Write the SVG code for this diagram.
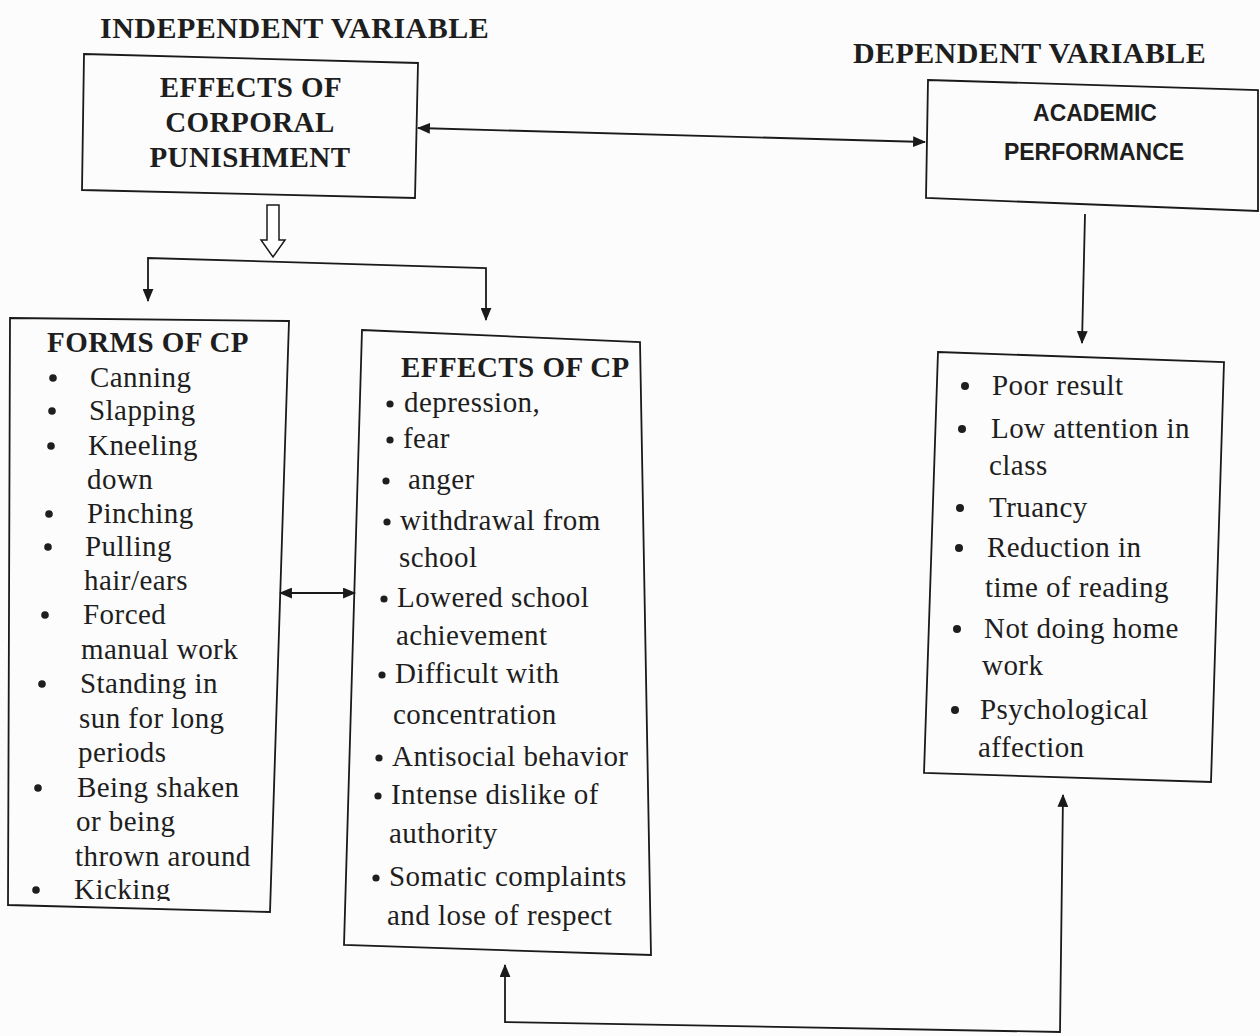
<svg xmlns="http://www.w3.org/2000/svg" width="1260" height="1036" viewBox="0 0 1260 1036">
<style>
.bg{fill:#fcfcfc}
.box{fill:none;stroke:#1a1a1a;stroke-width:1.8}
.ln{fill:none;stroke:#1a1a1a;stroke-width:1.8}
.t{font-family:"Liberation Serif","Times New Roman",serif;font-size:29px;letter-spacing:0.45px;fill:#1e1e1e}
.b{font-weight:bold}
.s{font-family:"Liberation Sans",Arial,sans-serif;font-size:23px;font-weight:bold;fill:#1e1e1e}
.dot{fill:#1e1e1e}
</style>
<defs>
<marker id="ah" viewBox="0 0 12 10" refX="11" refY="5" markerWidth="13" markerHeight="11" markerUnits="userSpaceOnUse" orient="auto-start-reverse">
<path d="M0,0 L12,5 L0,10 Z" fill="#1a1a1a"/>
</marker>
<clipPath id="kc"><rect x="0" y="860" width="300" height="41"/></clipPath>
</defs>
<rect class="bg" x="0" y="0" width="1260" height="1036"/>

<text class="t b" x="100" y="38" style="font-size:30px;letter-spacing:0.5px">INDEPENDENT VARIABLE</text>
<text class="t b" x="853" y="63" style="font-size:30px;letter-spacing:0.4px">DEPENDENT VARIABLE</text>

<g id="cp-box">
<path class="box" d="M84,54 L418,63 L415,198 L82,190 Z"/>
<text class="t b" x="251" y="97" text-anchor="middle">EFFECTS OF</text>
<text class="t b" x="250" y="132" text-anchor="middle">CORPORAL</text>
<text class="t b" x="250" y="167" text-anchor="middle">PUNISHMENT</text>
</g>

<g id="ap-box">
<path class="box" d="M928,80 L1258,90 L1258,211 L926,198 Z"/>
<text class="s" x="1095" y="121" text-anchor="middle">ACADEMIC</text>
<text class="s" x="1094" y="160" text-anchor="middle">PERFORMANCE</text>
</g>

<g id="forms-box">
<path class="box" d="M10,318 L289,321 L270,912 L8,905 Z"/>
<text class="t b" x="47" y="352">FORMS OF CP</text>
<circle class="dot" cx="53" cy="378" r="3.8"/><text class="t" x="90" y="387">Canning</text>
<circle class="dot" cx="52" cy="411" r="3.8"/><text class="t" x="89" y="420">Slapping</text>
<circle class="dot" cx="51" cy="446" r="3.8"/><text class="t" x="88" y="455">Kneeling</text>
<text class="t" x="87" y="489">down</text>
<circle class="dot" cx="49" cy="514" r="3.8"/><text class="t" x="87" y="523">Pinching</text>
<circle class="dot" cx="48" cy="547" r="3.8"/><text class="t" x="85" y="556">Pulling</text>
<text class="t" x="84" y="590">hair/ears</text>
<circle class="dot" cx="45" cy="615" r="3.8"/><text class="t" x="83" y="624">Forced</text>
<text class="t" x="81" y="659">manual work</text>
<circle class="dot" cx="42" cy="684" r="3.8"/><text class="t" x="80" y="693">Standing in</text>
<text class="t" x="79" y="728">sun for long</text>
<text class="t" x="78" y="762">periods</text>
<circle class="dot" cx="38" cy="788" r="3.8"/><text class="t" x="77" y="797">Being shaken</text>
<text class="t" x="76" y="831">or being</text>
<text class="t" x="75" y="866">thrown around</text>
<circle class="dot" cx="36" cy="890" r="3.8"/><text class="t" x="74" y="899" clip-path="url(#kc)">Kicking</text>
</g>

<g id="effects-box">
<path class="box" d="M362,330 L640,342 L651,955 L344,945 Z"/>
<text class="t b" x="401" y="377">EFFECTS OF CP</text>
<circle class="dot" cx="390" cy="404" r="3.6"/><text class="t" x="404" y="412">depression,</text>
<circle class="dot" cx="390" cy="440" r="3.6"/><text class="t" x="403" y="448">fear</text>
<circle class="dot" cx="386" cy="481" r="3.6"/><text class="t" x="408" y="489">anger</text>
<circle class="dot" cx="387" cy="522" r="3.6"/><text class="t" x="400" y="530">withdrawal from</text>
<text class="t" x="399" y="567">school</text>
<circle class="dot" cx="384" cy="599" r="3.6"/><text class="t" x="397" y="607">Lowered school</text>
<text class="t" x="396" y="645">achievement</text>
<circle class="dot" cx="382" cy="675" r="3.6"/><text class="t" x="395" y="683">Difficult with</text>
<text class="t" x="393" y="724">concentration</text>
<circle class="dot" cx="379" cy="758" r="3.6"/><text class="t" x="392" y="766">Antisocial behavior</text>
<circle class="dot" cx="378" cy="796" r="3.6"/><text class="t" x="391" y="804">Intense dislike of</text>
<text class="t" x="389" y="843">authority</text>
<circle class="dot" cx="376" cy="878" r="3.6"/><text class="t" x="389" y="886">Somatic complaints</text>
<text class="t" x="387" y="925">and lose of respect</text>
</g>

<g id="outcomes-box">
<path class="box" d="M938,352 L1224,362 L1211,782 L924,773 Z"/>
<circle class="dot" cx="965" cy="386" r="4"/><text class="t" x="992" y="395">Poor result</text>
<circle class="dot" cx="962" cy="429" r="4"/><text class="t" x="991" y="438">Low attention in</text>
<text class="t" x="989" y="475">class</text>
<circle class="dot" cx="960" cy="508" r="4"/><text class="t" x="989" y="517">Truancy</text>
<circle class="dot" cx="959" cy="548" r="4"/><text class="t" x="987" y="557">Reduction in</text>
<text class="t" x="985" y="597">time of reading</text>
<circle class="dot" cx="957" cy="629" r="4"/><text class="t" x="984" y="638">Not doing home</text>
<text class="t" x="982" y="675">work</text>
<circle class="dot" cx="955" cy="710" r="4"/><text class="t" x="980" y="719">Psychological</text>
<text class="t" x="978" y="757">affection</text>
</g>

<g id="connectors">
<line class="ln" x1="418" y1="128" x2="925" y2="142" marker-start="url(#ah)" marker-end="url(#ah)"/>
<polygon points="267,205 279,205 279,240 285,240 273,257 261,240 267,240" fill="#fff" stroke="#1a1a1a" stroke-width="1.5"/>
<path class="ln" d="M148,301 L148,258 L486,268 L486,320" marker-start="url(#ah)" marker-end="url(#ah)"/>
<line class="ln" x1="1085" y1="214" x2="1082" y2="343" marker-end="url(#ah)"/>
<line class="ln" x1="280" y1="593" x2="355" y2="593" marker-start="url(#ah)" marker-end="url(#ah)"/>
<path class="ln" d="M505,965 L505,1022 L1060,1032 L1063,795" marker-start="url(#ah)" marker-end="url(#ah)"/>
</g>
</svg>
